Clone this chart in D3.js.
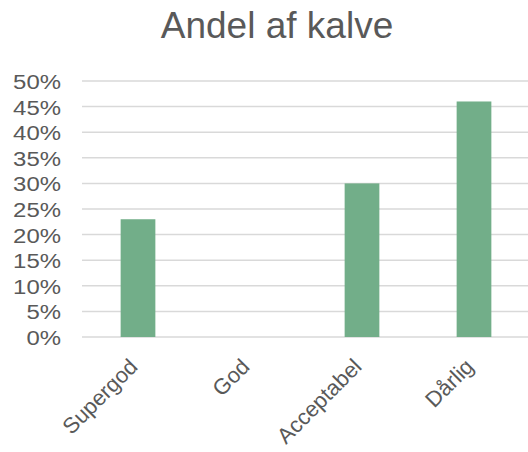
<!DOCTYPE html>
<html>
<head>
<meta charset="utf-8">
<script src="https://cdn.jsdelivr.net/npm/d3@7"></script>
<style>
  body { margin: 0; background: #fff; }
  svg text { font-family: "Liberation Sans", Arial, sans-serif; fill: #595959; }
</style>
</head>
<body>
<svg width="528" height="452"></svg>
<script>
var categories = ['Supergod', 'God', 'Acceptabel', 'Dårlig'];
var values = [0.23, 0, 0.30, 0.46];
var yTicks = [0, 0.05, 0.10, 0.15, 0.20, 0.25, 0.30, 0.35, 0.40, 0.45, 0.50];

var svg = d3.select('svg');

var x = d3.scaleBand()
  .domain(categories)
  .range([82, 530])
  .paddingInner(0.69)
  .paddingOuter(0.345);

var y = d3.scaleLinear()
  .domain([0, 0.5])
  .range([337, 81]);

// gridlines
svg.append('g')
  .selectAll('line')
  .data(yTicks)
  .enter()
    .append('line')
    .attr('x1', 82)
    .attr('x2', 528)
    .attr('y1', function(d) { return y(d); })
    .attr('y2', function(d) { return y(d); })
    .attr('stroke', '#d9d9d9')
    .attr('stroke-width', 1.5);

// y labels
var yAxis = svg.append('g')
  .attr('transform', 'translate(61,0)')
  .call(d3.axisLeft(y).tickValues(yTicks).tickFormat(d3.format('.0%')).tickSize(0).tickPadding(0));
yAxis.select('.domain').remove();
yAxis.selectAll('text')
  .attr('font-size', 21)
  .attr('font-family', '"Liberation Sans", Arial, sans-serif')
  .attr('fill', '#595959')
  .attr('dy', '0.36em')
  .attr('transform', 'scale(1.14,1)');

// bars
svg.append('g')
  .selectAll('rect')
  .data(values)
  .enter()
    .append('rect')
    .attr('x', function(d, i) { return x(categories[i]); })
    .attr('width', x.bandwidth())
    .attr('y', function(d) { return y(d); })
    .attr('height', function(d) { return y(0) - y(d); })
    .attr('fill', '#72ae89');

// x labels, rotated
var xAxis = svg.append('g')
  .attr('transform', 'translate(0,' + 337 + ')')
  .call(d3.axisBottom(x).tickSize(0).tickPadding(0));
xAxis.select('.domain').remove();
xAxis.selectAll('text')
  .attr('font-size', 22)
  .attr('font-family', '"Liberation Sans", Arial, sans-serif')
  .attr('fill', '#595959')
  .attr('text-anchor', 'end')
  .attr('dy', null)
  .attr('y', 0)
  .attr('transform', 'translate(1,31) rotate(-45)');

// title
svg.append('text')
  .attr('x', 277)
  .attr('y', 38)
  .attr('text-anchor', 'middle')
  .attr('font-size', 37)
  .text('Andel af kalve');
</script>
</body>
</html>
